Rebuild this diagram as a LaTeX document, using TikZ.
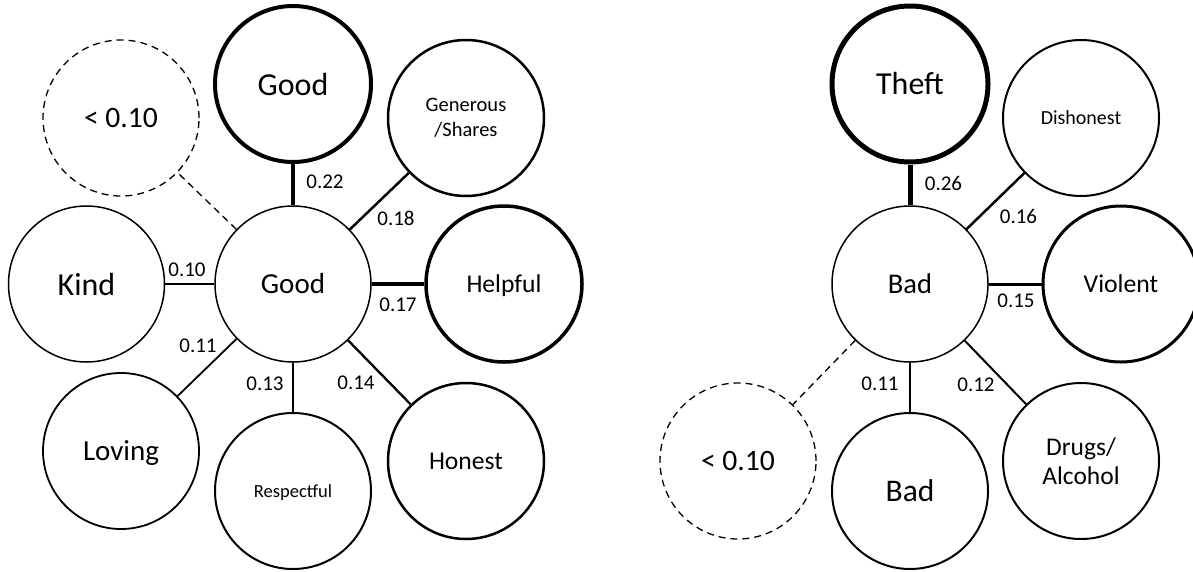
\documentclass[tikz,border=0pt]{standalone}
\usepackage{fontspec}
\setmainfont{Carlito}
\newcommand\fs[1]{\fontsize{#1}{1.2\dimexpr#1pt\relax}\selectfont}
\newcommand\nodesc[1]{\raisebox{0pt}[\height][0pt]{#1}}
\begin{document}
\begin{tikzpicture}[x=1pt,y=-1pt,
  circ/.style={circle, draw=black, minimum size=156pt, inner sep=0pt, align=center, fill=white},
  dsh/.style={dash pattern=on 7pt off 5pt},
  lbl/.style={font=\fs{21}, inner sep=0pt}]
\useasboundingbox (0,0) rectangle (1193,571);
\clip (0,0) rectangle (1193,571);

% ---------- left: Good ----------
\node[circ, line width=1.5pt, font=\fs{29}] (g) at (293,284) {Good};
\node[circ, line width=4pt, font=\fs{32}] (gt) at (293,84) {Good};
\node[circ, line width=2.5pt, font=\fontsize{20.5}{25}\selectfont] (gen) at (466,118) {Generous\\/Shares};
\node[circ, line width=3.5pt, font=\fs{25.6}] (help) at (504,284) {\nodesc{Helpful}};
\node[circ, line width=2.5pt, font=\fs{25.6}] (hon) at (466,461) {Honest};
\node[circ, line width=2pt, font=\fs{18.5}] (resp) at (293,491) {\nodesc{Respectful}};
\node[circ, line width=1.8pt, font=\fs{29}] (lov) at (121,451) {\nodesc{Loving}};
\node[circ, line width=1.5pt, font=\fs{32}] (kind) at (86.5,284) {Kind};
\node[circ, dsh, line width=1.3pt, font=\fs{29.6}] (dl) at (121,118) {< 0.10};

\draw[line width=4pt] (g) -- (gt);
\draw[line width=2.5pt] (g) -- (gen);
\draw[line width=3.5pt] (g) -- (help);
\draw[line width=2.3pt] (g) -- (hon);
\draw[line width=2pt] (g) -- (resp);
\draw[line width=1.8pt] (g) -- (lov);
\draw[line width=1.5pt] (g) -- (kind);
\draw[line width=1.3pt, dsh] (g) -- (dl);

\node[lbl] (l22) at (325,182) {0.22};
\node[lbl] (l18) at (396,218) {0.18};
\node[lbl] (l17) at (398,305) {0.17};
\node[lbl] (l14) at (356,383) {0.14};
\node[lbl] (l13) at (265,384) {0.13};
\node[lbl] (l11) at (198,346) {0.11};
\node[lbl] (l10) at (187,270) {0.10};

% ---------- right: Bad ----------
\node[circ, line width=1.5pt, font=\fs{28.5}] (b) at (910,284) {Bad};
\node[circ, line width=5pt, font=\fs{32}] (theft) at (910,84) {Theft};
\node[circ, line width=2pt, font=\fs{20}] (dis) at (1081,118) {Dishonest};
\node[circ, line width=3pt, font=\fs{25.7}] (vio) at (1121,284) {Violent};
\node[circ, line width=2pt, font=\fontsize{25.5}{29}\selectfont] (drug) at (1081,461) {Drugs/\\Alcohol};
\node[circ, line width=2pt, font=\fs{31.5}] (bb) at (910,491) {Bad};
\node[circ, dsh, line width=1.3pt, font=\fs{29.6}] (dr) at (738,461) {< 0.10};

\draw[line width=5pt] (b) -- (theft);
\draw[line width=2.5pt] (b) -- (dis);
\draw[line width=3pt] (b) -- (vio);
\draw[line width=2pt] (b) -- (drug);
\draw[line width=1.5pt] (b) -- (bb);
\draw[line width=1.3pt, dsh] (b) -- (dr);

\node[lbl] (r26) at (943.5,183) {0.26};
\node[lbl] (r16) at (1018.5,216) {0.16};
\node[lbl] (r15) at (1016,301) {0.15};
\node[lbl] (r12) at (976,385) {0.12};
\node[lbl] (r11) at (880,384) {0.11};
\end{tikzpicture}
\end{document}
